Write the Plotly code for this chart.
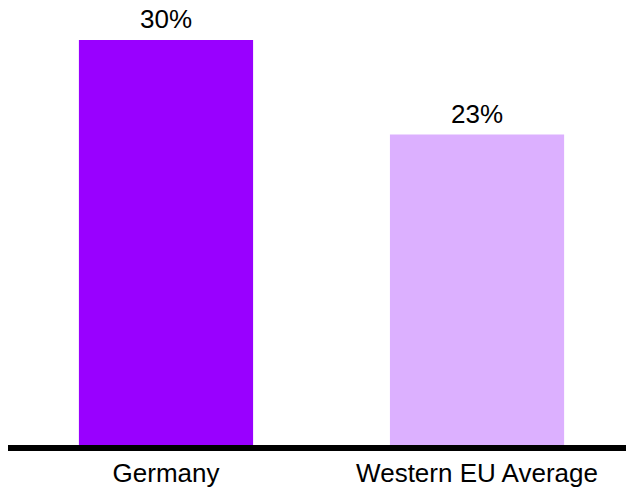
import plotly.graph_objects as go

# Share of respondents by region
categories = ["Germany", "Western EU Average"]
values = [30, 23]
bar_colors = ["#9900FF", "#DCB0FF"]

FONT = "Liberation Sans, Arial, sans-serif"

fig = go.Figure(
    go.Bar(
        x=categories,
        y=values,
        marker=dict(color=bar_colors, line=dict(width=0)),
        width=0.56,
        hoverinfo="skip",
    )
)

# Value labels above each bar, taken from the same values
for cat, val in zip(categories, values):
    fig.add_annotation(
        x=cat, y=val, text=f"{val}%", showarrow=False,
        yanchor="bottom", yshift=4,
        font=dict(family=FONT, size=26, color="#000000"),
    )

fig.update_layout(
    template="none",
    width=626, height=489,
    margin=dict(l=8, r=0, t=40, b=44, pad=0),
    paper_bgcolor="white", plot_bgcolor="white",
    showlegend=False,
    font=dict(family=FONT, size=26, color="#000000"),
    xaxis=dict(
        type="category",
        automargin=False,
        range=[-0.508, 1.479],
        showline=True, linecolor="#000000", linewidth=6,
        ticks="", showgrid=False, zeroline=False,
        tickfont=dict(family=FONT, size=26, color="#000000"),
        ticklabelstandoff=0,
    ),
    yaxis=dict(
        automargin=False,
        range=[0, 30],
        visible=False, showgrid=False, zeroline=False,
    ),
)

fig.write_html("out.html")
